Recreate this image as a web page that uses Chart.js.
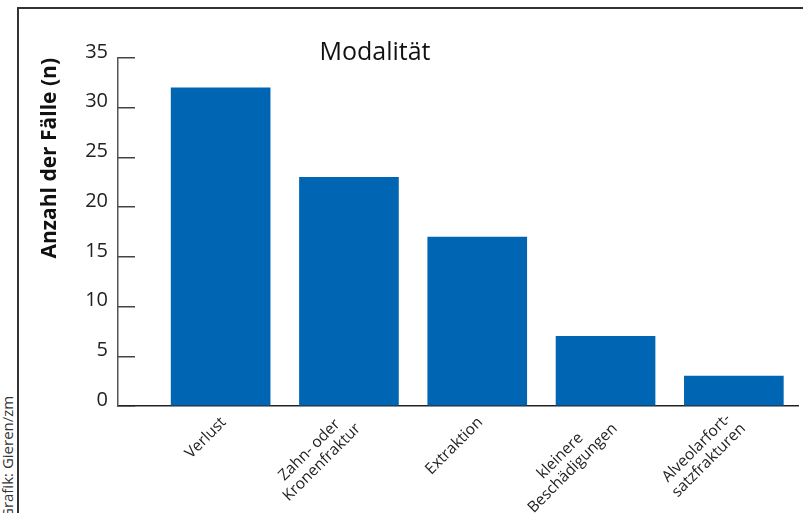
<!DOCTYPE html>
<html>
<head>
<meta charset="utf-8">
<script src="https://cdn.jsdelivr.net/npm/chart.js@4"></script>
<style>
    html, body { margin: 0; padding: 0; background: #fff; }
    #wrap { position: relative; width: 803px; height: 513px; overflow: hidden; }
    #frame { position: absolute; left: 17px; top: 7px; width: 800px; height: 520px;
             border-top: 2px solid #333; border-left: 2px solid #333; }
    #credit { position: absolute; left: -2px; top: 519px; transform-origin: 0 0;
              transform: rotate(-90deg); font: 15px "Open Sans", sans-serif; color: #333;
              white-space: nowrap; line-height: 18px; }
    canvas { position: absolute; left: 0; top: 0; }
</style>
</head>
<body>
<div id="wrap">
    <div id="frame"></div>
    <div id="credit">Grafik: Gieren/zm</div>
    <canvas id="chart" width="803" height="513"></canvas>
</div>
<script>
// Data
const categories = [
    'Verlust',
    ['Zahn- oder', 'Kronenfraktur'],
    'Extraktion',
    ['kleinere', 'Beschädigungen'],
    ['Alveolarfort-', 'satzfrakturen']
];
const cases = [32, 23, 17, 7, 3];
const yTicks = [0, 5, 10, 15, 20, 25, 30, 35];
const chartTitle = 'Modalität';
const yTitle = 'Anzahl der Fälle (n)';

const fontFamily = '"Open Sans", "Noto Sans", sans-serif';

// Title sits inside the plot area, left of centre
const innerTitle = {
    id: 'innerTitle',
    afterDraw(chart) {
        const { ctx, chartArea } = chart;
        ctx.save();
        ctx.font = '25px ' + fontFamily;
        ctx.fillStyle = '#111';
        ctx.textAlign = 'center';
        ctx.textBaseline = 'middle';
        ctx.fillText(chartTitle, chartArea.left + 257, chartArea.top - 5);
        ctx.restore();
    }
};

// Rotated category labels, lines centred on each other (like the print graphic)
const categoryLabels = {
    id: 'categoryLabels',
    afterDraw(chart) {
        const { ctx } = chart;
        const xs = chart.scales.x;
        const lh = 17.5;
        ctx.save();
        ctx.font = '15.5px ' + fontFamily;
        ctx.fillStyle = '#222';
        ctx.textAlign = 'center';
        ctx.textBaseline = 'middle';
        categories.forEach((label, i) => {
            const lines = [].concat(label);
            const wmax = Math.max(...lines.map(l => ctx.measureText(l).width));
            ctx.save();
            ctx.translate(xs.getPixelForValue(i) + 3, xs.top + 14);
            ctx.rotate(-Math.PI / 4);
            lines.forEach((l, j) => {
                ctx.fillText(l, -wmax / 2, (j - (lines.length - 1) / 2) * lh);
            });
            ctx.restore();
        });
        ctx.restore();
    }
};

const ctx = document.getElementById('chart').getContext('2d');
new Chart(ctx, {
    type: 'bar',
    data: {
        datasets: [{
            data: cases.map((v, i) => ({ x: i, y: v })),
            backgroundColor: '#0066b3',
            borderWidth: 0,
            barThickness: 99
        }]
    },
    options: {
        responsive: false,
        animation: false,
        layout: { padding: { left: 0, right: 5, top: 58, bottom: 0 } },
        plugins: {
            legend: { display: false },
            tooltip: { enabled: false }
        },
        scales: {
            x: {
                type: 'linear',
                min: -0.8,
                max: 4.5,
                offset: false,
                afterFit: scale => { scale.height = 107; },
                grid: { display: false },
                border: { display: true, color: '#222', width: 1.5 },
                ticks: { display: false }
            },
            y: {
                min: 0,
                max: 35,
                afterBuildTicks: scale => {
                    scale.ticks = yTicks.map(v => ({ value: v }));
                },
                afterFit: scale => { scale.width = 118; },
                grid: {
                    drawOnChartArea: false,
                    drawTicks: true,
                    tickLength: -17,
                    color: '#444',
                    lineWidth: 1.5
                },
                border: { display: true, color: '#555', width: 1.5 },
                ticks: {
                    padding: 27,
                    labelOffset: -6,
                    color: '#222',
                    font: { family: fontFamily, size: 20 }
                },
                title: {
                    display: true,
                    text: yTitle,
                    align: 'end',
                    color: '#111',
                    font: { family: fontFamily, size: 21, weight: 'bold' },
                    padding: { top: 37, bottom: 0 }
                }
            }
        }
    },
    plugins: [innerTitle, categoryLabels]
});
</script>
</body>
</html>
